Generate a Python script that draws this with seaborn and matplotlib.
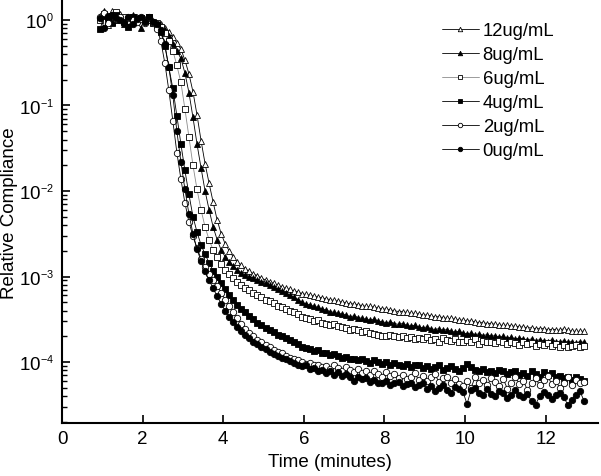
import numpy as np
import pandas as pd
import matplotlib
matplotlib.use("Agg")
import matplotlib.pyplot as plt
from matplotlib.ticker import LogLocator, NullFormatter, NullLocator
import seaborn as sns

try:
    # smaller exponents on the 10^n tick labels, as in the original figure
    import matplotlib._mathtext as _mt
    _mt.SHRINK_FACTOR = 0.58
except Exception:
    pass

# sampling grid of the measurement (one point every 0.1 min)
time_min = np.round(np.linspace(0.95, 12.95, 121), 2)

# log10(relative compliance), 121 points per series
log_0ug = [
    0.02, -0.09, 0.05, 0.06, 0.02, 0.00, -0.03, 0.03, -0.05, 0.01,
    0.03, -0.02, 0.04, -0.02, -0.05, -0.12, -0.28, -0.55, -0.88, -1.30,
    -1.66, -1.98, -2.27, -2.50, -2.68, -2.82, -2.94, -3.04, -3.14, -3.23,
    -3.32, -3.40, -3.47, -3.53, -3.59, -3.64, -3.68, -3.72, -3.76, -3.79,
    -3.82, -3.85, -3.88, -3.91, -3.93, -3.95, -3.97, -3.99, -4.01, -4.03,
    -4.05, -4.04, -4.08, -4.07, -4.10, -4.09, -4.13, -4.11, -4.15, -4.12,
    -4.16, -4.14, -4.18, -4.22, -4.17, -4.20, -4.19, -4.23, -4.21, -4.25,
    -4.24, -4.22, -4.27, -4.25, -4.23, -4.28, -4.26, -4.24, -4.29, -4.27,
    -4.25, -4.31, -4.28, -4.34, -4.30, -4.27, -4.33, -4.36, -4.29, -4.32,
    -4.35, -4.49, -4.33, -4.30, -4.36, -4.38, -4.32, -4.37, -4.40, -4.34,
    -4.36, -4.42, -4.38, -4.33, -4.39, -4.41, -4.37, -4.46, -4.50, -4.40,
    -4.35, -4.38, -4.43, -4.39, -4.36, -4.41, -4.50, -4.44, -4.38, -4.34,
    -4.45,
]
log_2ug = [
    0.04, 0.08, -0.03, 0.06, 0.01, 0.03, -0.04, 0.02, 0.00, -0.02,
    0.01, -0.03, 0.02, -0.04, -0.10, -0.24, -0.50, -0.82, -1.18, -1.55,
    -1.86, -2.14, -2.36, -2.53, -2.67, -2.79, -2.89, -2.97, -3.04, -3.11,
    -3.19, -3.27, -3.35, -3.42, -3.49, -3.56, -3.61, -3.66, -3.70, -3.74,
    -3.77, -3.80, -3.83, -3.86, -3.88, -3.90, -3.93, -3.95, -3.97, -3.98,
    -4.00, -4.02, -4.01, -4.04, -4.03, -4.06, -4.05, -4.08, -4.03, -4.07,
    -4.10, -4.06, -4.09, -4.12, -4.08, -4.13, -4.11, -4.15, -4.10, -4.14,
    -4.18, -4.12, -4.16, -4.14, -4.19, -4.15, -4.20, -4.17, -4.13, -4.21,
    -4.16, -4.22, -4.18, -4.14, -4.23, -4.19, -4.17, -4.24, -4.20, -4.26,
    -4.28, -4.22, -4.30, -4.18, -4.24, -4.21, -4.27, -4.19, -4.23, -4.28,
    -4.20, -4.31, -4.24, -4.17, -4.26, -4.22, -4.33, -4.25, -4.19, -4.27,
    -4.21, -4.16, -4.26, -4.22, -4.30, -4.24, -4.18, -4.27, -4.21, -4.25,
    -4.23,
]
log_4ug = [
    -0.10, 0.05, 0.02, -0.03, 0.06, 0.01, -0.02, -0.08, 0.03, 0.00,
    0.02, -0.01, 0.03, -0.03, -0.06, -0.14, -0.30, -0.55, -0.80, -1.12,
    -1.45, -1.76, -2.04, -2.30, -2.48, -2.63, -2.74, -2.84, -2.93, -3.01,
    -3.08, -3.15, -3.22, -3.28, -3.33, -3.38, -3.42, -3.46, -3.50, -3.54,
    -3.57, -3.60, -3.63, -3.65, -3.68, -3.70, -3.72, -3.74, -3.77, -3.79,
    -3.82, -3.84, -3.85, -3.87, -3.86, -3.89, -3.90, -3.92, -3.91, -3.93,
    -3.95, -3.94, -3.97, -3.96, -3.98, -3.97, -3.99, -4.01, -3.98, -4.00,
    -4.02, -4.00, -4.03, -4.01, -4.04, -4.05, -4.02, -4.06, -4.04, -4.03,
    -4.07, -4.05, -4.08, -4.06, -4.04, -4.09, -4.07, -4.05, -4.08, -4.10,
    -4.07, -4.02, -4.06, -4.09, -4.11, -4.08, -4.12, -4.10, -4.13, -4.09,
    -4.11, -4.14, -4.12, -4.10, -4.15, -4.13, -4.16, -4.11, -4.14, -4.17,
    -4.12, -4.15, -4.13, -4.18, -4.16, -4.19, -4.17, -4.21, -4.18, -4.20,
    -4.22,
]
log_6ug = [
    0.00, 0.07, 0.03, -0.02, 0.09, 0.02, 0.04, -0.01, 0.03, 0.01,
    0.02, 0.00, 0.03, -0.02, -0.04, -0.08, -0.15, -0.25, -0.36, -0.53,
    -0.73, -1.04, -1.37, -1.70, -1.98, -2.22, -2.42, -2.57, -2.69, -2.77,
    -2.85, -2.92, -2.97, -3.02, -3.06, -3.10, -3.13, -3.16, -3.19, -3.22,
    -3.24, -3.27, -3.29, -3.31, -3.34, -3.36, -3.38, -3.40, -3.42, -3.44,
    -3.47, -3.49, -3.50, -3.52, -3.51, -3.54, -3.55, -3.57, -3.56, -3.58,
    -3.59, -3.60, -3.62, -3.61, -3.63, -3.65, -3.64, -3.66, -3.67, -3.68,
    -3.70, -3.69, -3.68, -3.70, -3.71, -3.69, -3.72, -3.71, -3.73, -3.72,
    -3.73, -3.71, -3.74, -3.73, -3.77, -3.72, -3.74, -3.75, -3.73, -3.76,
    -3.77, -3.74, -3.76, -3.73, -3.79, -3.75, -3.77, -3.76, -3.78, -3.75,
    -3.77, -3.79, -3.76, -3.78, -3.80, -3.77, -3.79, -3.78, -3.81, -3.79,
    -3.80, -3.78, -3.81, -3.79, -3.82, -3.80, -3.83, -3.81, -3.80, -3.82,
    -3.81,
]
log_8ug = [
    0.03, 0.10, -0.02, 0.05, 0.00, 0.04, -0.05, 0.02, 0.06, 0.01,
    -0.09, 0.00, 0.02, -0.02, -0.04, -0.07, -0.12, -0.19, -0.28, -0.36,
    -0.45, -0.62, -0.85, -1.14, -1.45, -1.73, -2.00, -2.22, -2.42, -2.57,
    -2.69, -2.77, -2.83, -2.88, -2.92, -2.96, -2.98, -3.00, -3.02, -3.04,
    -3.06, -3.08, -3.10, -3.12, -3.15, -3.17, -3.19, -3.22, -3.24, -3.27,
    -3.30, -3.32, -3.33, -3.35, -3.36, -3.38, -3.39, -3.41, -3.42, -3.43,
    -3.44, -3.45, -3.47, -3.46, -3.48, -3.49, -3.50, -3.51, -3.50, -3.52,
    -3.53, -3.54, -3.53, -3.55, -3.56, -3.55, -3.57, -3.58, -3.57, -3.59,
    -3.60, -3.59, -3.61, -3.62, -3.61, -3.63, -3.62, -3.64, -3.65, -3.64,
    -3.66, -3.67, -3.66, -3.68, -3.67, -3.69, -3.68, -3.70, -3.69, -3.71,
    -3.70, -3.72, -3.71, -3.73, -3.72, -3.73, -3.74, -3.73, -3.75, -3.74,
    -3.75, -3.76, -3.74, -3.76, -3.77, -3.75, -3.77, -3.76, -3.78, -3.76,
    -3.77,
]
log_12ug = [
    0.05, 0.08, -0.06, 0.10, 0.02, 0.07, 0.01, 0.04, -0.02, 0.03,
    0.02, 0.01, 0.00, -0.01, -0.03, -0.05, -0.09, -0.14, -0.20, -0.27,
    -0.34, -0.47, -0.63, -0.84, -1.11, -1.41, -1.68, -1.91, -2.13, -2.34,
    -2.50, -2.62, -2.70, -2.77, -2.83, -2.87, -2.91, -2.94, -2.97, -2.99,
    -3.02, -3.04, -3.06, -3.08, -3.10, -3.12, -3.14, -3.15, -3.17, -3.18,
    -3.20, -3.21, -3.22, -3.23, -3.24, -3.25, -3.26, -3.27, -3.28, -3.29,
    -3.30, -3.31, -3.32, -3.32, -3.33, -3.34, -3.35, -3.35, -3.36, -3.37,
    -3.38, -3.38, -3.39, -3.40, -3.41, -3.41, -3.42, -3.43, -3.43, -3.44,
    -3.45, -3.45, -3.46, -3.47, -3.47, -3.48, -3.49, -3.49, -3.50, -3.51,
    -3.51, -3.52, -3.52, -3.53, -3.54, -3.54, -3.55, -3.55, -3.56, -3.57,
    -3.57, -3.57, -3.58, -3.58, -3.59, -3.59, -3.60, -3.60, -3.61, -3.61,
    -3.61, -3.62, -3.62, -3.62, -3.63, -3.61, -3.63, -3.64, -3.64, -3.64,
    -3.64,
]

labels = ["12ug/mL", "8ug/mL", "6ug/mL", "4ug/mL", "2ug/mL", "0ug/mL"]
series = [log_12ug, log_8ug, log_6ug, log_4ug, log_2ug, log_0ug]
markers = ["^", "^", "s", "s", "o", "o"]
faces = ["white", "black", "white", "black", "white", "black"]
line_colors = ["black", "black", "0.55", "black", "black", "black"]

sns.set_theme(style="ticks")
plt.rcParams["font.family"] = ["Liberation Sans", "DejaVu Sans"]
plt.rcParams["mathtext.fontset"] = "custom"
plt.rcParams["mathtext.rm"] = "Liberation Sans"
plt.rcParams["axes.unicode_minus"] = False

fig = plt.figure(figsize=(6.01, 4.77), dpi=100)
ax = fig.add_axes([62 / 601, 1 - 424 / 477, 536 / 601, 422 / 477])

for lab, vals, mk, fc, lc in zip(labels, series, markers, faces, line_colors):
    df = pd.DataFrame({"t": time_min, "c": 10.0 ** np.array(vals)})
    sns.lineplot(data=df, x="t", y="c", ax=ax, color=lc, linewidth=0.6,
                 marker=mk, markersize=4.6, markerfacecolor=fc,
                 markeredgecolor="black", markeredgewidth=0.6, label=lab)

ax.set_yscale("log")
ax.set_xlim(0, 13.3)
ax.set_ylim(10 ** -4.713, 10 ** 0.222)
ax.set_xticks([0, 2, 4, 6, 8, 10, 12])
ax.xaxis.set_minor_locator(NullLocator())
ax.yaxis.set_major_locator(LogLocator(base=10, numticks=10))
ax.yaxis.set_minor_locator(LogLocator(base=10, subs=np.arange(2, 10), numticks=20))
ax.yaxis.set_minor_formatter(NullFormatter())

ax.tick_params(axis="both", which="major", direction="in", length=6,
               width=1.2, labelsize=13.5, color="black", labelcolor="black")
ax.tick_params(axis="x", which="major", pad=5)
ax.tick_params(axis="y", which="major", pad=6)
ax.tick_params(axis="y", which="minor", direction="in", length=3.5,
               width=1.0, color="black")

for side in ["top", "right"]:
    ax.spines[side].set_visible(False)
for side in ["left", "bottom"]:
    ax.spines[side].set_linewidth(1.5)
    ax.spines[side].set_color("black")

ax.set_xlabel("Time (minutes)", fontsize=13.5, color="black")
ax.set_ylabel("Relative Compliance", fontsize=13.5, color="black")
ax.xaxis.set_label_coords(0.5, -30 / 422)
ax.yaxis.set_label_coords(-44 / 536, 0.5)

leg = ax.legend(loc="upper left", bbox_to_anchor=(442 / 601, 1 - 23 / 477),
                bbox_transform=fig.transFigure, frameon=False, fontsize=13.3,
                handlelength=2.0, handletextpad=0.2, labelspacing=0.38,
                borderpad=0, borderaxespad=0, markerscale=0.7)
for txt in leg.get_texts():
    txt.set_color("black")

fig.savefig("out.png", dpi=100)
